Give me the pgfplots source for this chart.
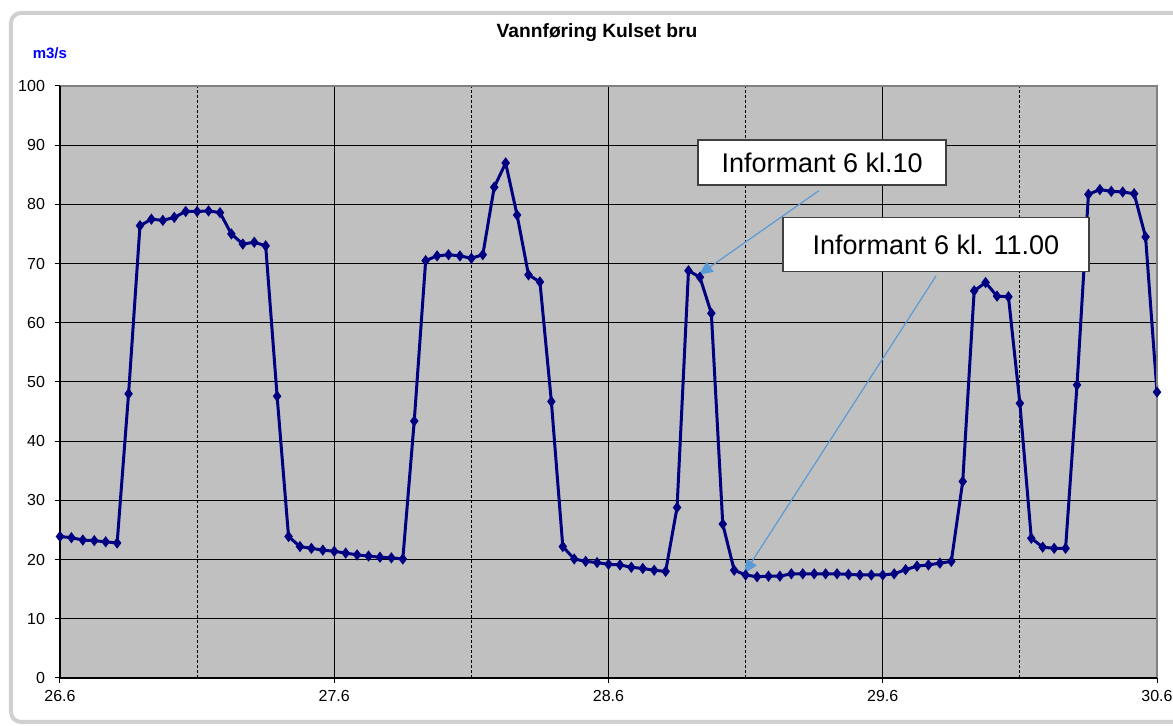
\documentclass[border=0pt]{standalone}
\usepackage{fontspec}
\setmainfont{Liberation Sans}
\usepackage{pgfplots}
\pgfplotsset{compat=1.18}
\usetikzlibrary{arrows.meta}
\definecolor{plotbg}{HTML}{C0C0C0}
\definecolor{navyline}{HTML}{000080}
\definecolor{arrowblue}{HTML}{5B9BD5}
\definecolor{framegray}{HTML}{D0D0D0}
\definecolor{boxgray}{HTML}{404040}
\definecolor{bordergray}{HTML}{808080}
\pgfplotstableread{
i v
0 23.9
1 23.7
2 23.3
3 23.2
4 23.0
5 22.8
6 48.0
7 76.4
8 77.5
9 77.3
10 77.8
11 78.8
12 78.8
13 78.9
14 78.6
15 75.0
16 73.3
17 73.6
18 73.0
19 47.6
20 23.9
21 22.2
22 21.9
23 21.6
24 21.4
25 21.1
26 20.8
27 20.6
28 20.4
29 20.3
30 20.1
31 43.4
32 70.5
33 71.3
34 71.5
35 71.3
36 70.9
37 71.5
38 82.9
39 87.0
40 78.2
41 68.1
42 66.9
43 46.7
44 22.2
45 20.1
46 19.7
47 19.5
48 19.2
49 19.1
50 18.7
51 18.5
52 18.2
53 18.0
54 28.8
55 68.8
56 67.7
57 61.6
58 26.0
59 18.2
60 17.4
61 17.1
62 17.2
63 17.2
64 17.6
65 17.6
66 17.6
67 17.6
68 17.6
69 17.5
70 17.4
71 17.4
72 17.4
73 17.6
74 18.3
75 18.9
76 19.1
77 19.4
78 19.7
79 33.2
80 65.4
81 66.8
82 64.5
83 64.4
84 46.4
85 23.6
86 22.1
87 21.9
88 21.9
89 49.5
90 81.7
91 82.5
92 82.2
93 82.1
94 81.8
95 74.5
96 48.3
}\flowdata
\begin{document}
\begin{tikzpicture}
\fill[white] (-30pt,-24pt) rectangle (556.5pt,339pt);
\draw[framegray, line width=2pt, rounded corners=5pt] (-24.5pt,-22pt) rectangle (575pt,332.5pt);
\begin{axis}[
  at={(0,0)}, anchor=south west, scale only axis,
  width=548.5pt, height=296pt,
  xmin=0, xmax=96, ymin=0, ymax=100,
  axis background/.style={fill=plotbg},
  xtick={0,24,48,72,96},
  xticklabels={26.6,27.6,28.6,29.6,30.6},
  minor xtick={12,36,60,84},
  ytick={0,10,...,100},
  xmajorgrids, ymajorgrids, xminorgrids,
  major grid style={black, line width=0.5pt},
  minor grid style={black, line width=0.4pt, dash pattern=on 1.5pt off 1pt},
  tick align=outside, tick pos=left,
  major tick length=2.5pt, minor tick length=0pt,
  tick style={black, line width=0.5pt},
  axis line style={draw=none},
  ticklabel style={font=\fontsize{8}{9}\selectfont},
  /pgf/number format/assume math mode=true,
  yticklabel shift=1.5pt,
  clip=false,
]
\addplot[navyline, line width=1.5pt, mark=diamond*, mark size=1.6pt, mark options={solid, fill=navyline}] table[x=i, y=v] {\flowdata};
\draw[bordergray, line width=0.6pt] (axis cs:0,100) -- (axis cs:96,100) -- (axis cs:96,0);
\draw[black, line width=0.8pt] (axis cs:0,100) -- (axis cs:0,0) -- (axis cs:96,0);
\draw[arrowblue, line width=0.6pt, -{Triangle[length=7pt,width=6pt]}] (axis cs:66.4,82.3) -- (axis cs:55.9,68.1);
\draw[arrowblue, line width=0.6pt, -{Triangle[length=7pt,width=6pt]}] (axis cs:76.66,67.9) -- (axis cs:59.86,17.6);
\node[draw=boxgray, line width=0.8pt, fill=white, minimum width=124pt, minimum height=22.5pt, inner sep=0pt, font=\fontsize{13.5}{15}\selectfont] at (axis cs:66.7,87.1) {Informant 6 kl.10};
\node[draw=boxgray, line width=0.8pt, fill=white, minimum width=153pt, minimum height=27pt, inner sep=0pt, font=\fontsize{13.5}{15}\selectfont] at (axis cs:76.65,73.2) {Informant 6 kl. 11.00};
\end{axis}
\node[anchor=base, inner sep=0pt, font=\fontsize{9.6}{11}\selectfont\bfseries] at (268.5pt,320pt) {Vannføring Kulset bru};
\node[anchor=base west, inner sep=0pt, text=blue, font=\fontsize{7.5}{9}\selectfont\bfseries] at (-13.8pt,309.8pt) {m3/s};
\pgfresetboundingbox
\path[use as bounding box] (-30pt,-24pt) rectangle (556.5pt,339pt);
\end{tikzpicture}
\end{document}
